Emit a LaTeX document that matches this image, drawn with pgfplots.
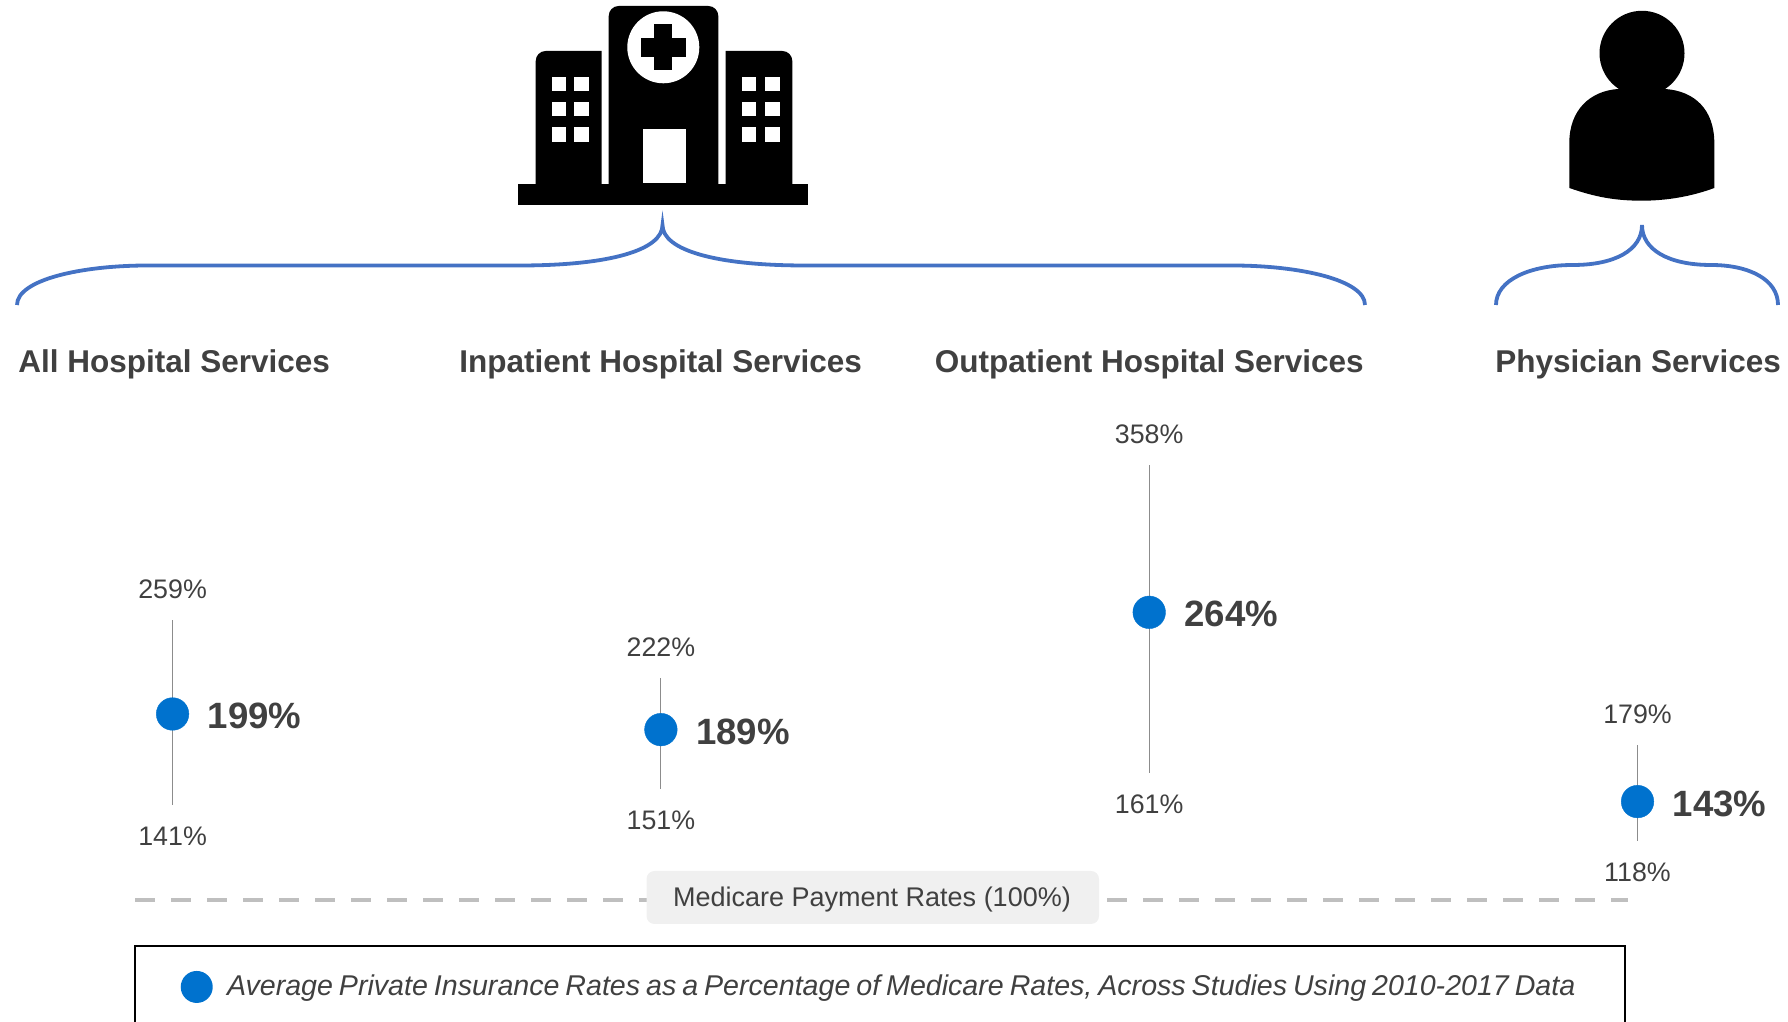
\documentclass[border=0pt]{standalone}
\usepackage{pgfplots}
\pgfplotsset{compat=1.18}
\usepackage{pgfplotstable}
\usepackage{fontspec}
\setmainfont{Liberation Sans}
\newfontfamily\legfont[WordSpace=0.75]{Liberation Sans}
\definecolor{dotblue}{HTML}{0072CE}
\definecolor{txt}{HTML}{404040}
\definecolor{brace}{HTML}{4472C4}
\pgfplotstableread{
x mean low high
0 199 141 259
1 189 151 222
2 264 161 358
3 143 118 179
}\rates
\begin{document}
\begin{tikzpicture}
\useasboundingbox (0,0) rectangle (894pt,511pt);
\begin{axis}[
  at={(0,0)}, anchor=south west, scale only axis, width=894pt, height=511pt,
  hide axis, clip=false,
  xmin=-0.3534, xmax=3.3082, ymin=2.07, ymax=655.5,
  /pgf/number format/assume math mode=true,
  legend style={at={(0.0748,0.0750)}, anchor=north west, draw=black, line width=1pt,
    inner xsep=23pt, inner ysep=12.3pt, fill=white,
    font=\legfont\fontsize{14.3pt}{15pt}\selectfont\itshape\color{txt}},
  legend image code/.code={\path[draw=none, fill=none] (-8pt,0) (13.15pt,0); \fill[dotblue, draw=none] (0,0) circle (8pt);},
]
\addplot[forget plot, line width=2.4pt, dash pattern=on 10pt off 8pt, color=black!25]
  coordinates {(-0.0768,80.1) (2.98,80.1)};
% range whiskers
\addplot[forget plot, draw=none, mark=none,
  error bars/.cd, y dir=both, y explicit, error mark=none,
  error bar style={color=black!45, line width=0.6pt}]
  table[x=x, y=mean, y error plus expr=\thisrow{high}-\thisrow{mean}, y error minus expr=\thisrow{mean}-\thisrow{low}] {\rates};
\addplot[forget plot, draw=none, mark=none, point meta=y,
  nodes near coords={\pgfmathprintnumber{\pgfplotspointmeta}\%},
  nodes near coords align={anchor=center, yshift=15.4pt},
  every node near coord/.append style={font=\fontsize{13.4pt}{15pt}\selectfont, text=txt}]
  table[x=x, y=high] {\rates};
\addplot[forget plot, draw=none, mark=none, point meta=y,
  nodes near coords={\pgfmathprintnumber{\pgfplotspointmeta}\%},
  nodes near coords align={anchor=center, yshift=-15.6pt},
  every node near coord/.append style={font=\fontsize{13.4pt}{15pt}\selectfont, text=txt}]
  table[x=x, y=low] {\rates};
\addplot[only marks, color=dotblue, mark=*, mark size=8.15pt, mark options={fill=dotblue, draw=dotblue, line width=0.2pt}, point meta=y,
  nodes near coords={\pgfmathprintnumber{\pgfplotspointmeta}\%},
  nodes near coords align={anchor=west, xshift=14.2pt, yshift=-1pt},
  every node near coord/.append style={font=\fontsize{18.3pt}{20pt}\selectfont\bfseries, text=txt}]
  table[x=x, y=mean] {\rates};
\addlegendentry{Average Private Insurance Rates as a Percentage of Medicare Rates, Across Studies Using 2010-2017 Data}
\end{axis}
\begin{scope}[shift={(0,511pt)}, x=0.5pt, y=-0.5pt]
  % reference label
  \fill[black!6, rounded corners=4pt] (646.5,871) rectangle (1099,924);
  \node[text=txt, font=\fontsize{13.5pt}{15pt}\selectfont] at (872,899.5) {Medicare Payment Rates (100\%)};
  % headers
  \foreach \px/\t in {18/All Hospital Services, 459/Inpatient Hospital Services, 934.5/Outpatient Hospital Services, 1495/Physician Services}
    \node[anchor=base west, inner sep=0pt, text=txt, font=\fontsize{15.75pt}{18pt}\selectfont\bfseries] at (\px,373) {\t};
  % braces
  \draw[brace, line width=1.9pt] (17,305) .. controls (17,280) and (80,265.5) .. (148,265.5) -- (520,265.5)
    .. controls (610,265.5) and (662.5,250) .. (662.5,225)
    .. controls (662.5,250) and (715,265.5) .. (805,265.5) -- (1232,265.5)
    .. controls (1300,265.5) and (1365,280) .. (1365,305);
  \draw[brace, line width=1.9pt] (1496,305) .. controls (1496,280) and (1530,265) .. (1573,265)
    .. controls (1615,265) and (1642,250) .. (1642,225)
    .. controls (1642,250) and (1669,265) .. (1711,265)
    .. controls (1750,265) and (1778,280) .. (1778,305);
  % hospital icon
  \fill[black] (518.3,184) rectangle (808.3,205);
  \fill[black] (535.7,184) -- (535.7,61) arc[start angle=180, end angle=90, x radius=10, y radius=-10]
     -- (601.7,51) -- (601.7,184) -- cycle;
  \fill[black] (792.3,184) -- (792.3,61) arc[start angle=0, end angle=90, x radius=10, y radius=-10]
     -- (725.7,51) -- (725.7,184) -- cycle;
  \fill[black] (608.7,184) -- (608.7,16) arc[start angle=180, end angle=90, x radius=10, y radius=-10]
     -- (708.3,6) arc[start angle=90, end angle=0, x radius=10, y radius=-10] -- (718.3,184) -- cycle;
  \fill[white] (663.3,47.3) circle (18pt);
  \fill[black] (640.7,38.3) rectangle (686,56.7);
  \fill[black] (654.3,24.3) rectangle (672.3,70);
  \fill[white] (643.3,129.3) rectangle (686,183.3);
  \foreach \wx in {551.7,574.3,741.7,765}
    \foreach \wy in {77,101.7,127.3}
      \fill[white] (\wx,\wy) rectangle ++(14.5,14.5);
  % person icon
  \fill[black] (1642,53.3) circle (21.25pt);
  \fill[black] (1569.3,188) -- (1569.3,143) .. controls (1569.3,110) and (1590,91) .. (1618,89)
    -- (1665,89) .. controls (1695,91) and (1714.3,110) .. (1714.3,143) -- (1714.3,188)
    .. controls (1690,197) and (1665,200.7) .. (1642,200.7)
    .. controls (1615,200.7) and (1595,197) .. (1569.3,188) -- cycle;
\end{scope}
\end{tikzpicture}
\end{document}
